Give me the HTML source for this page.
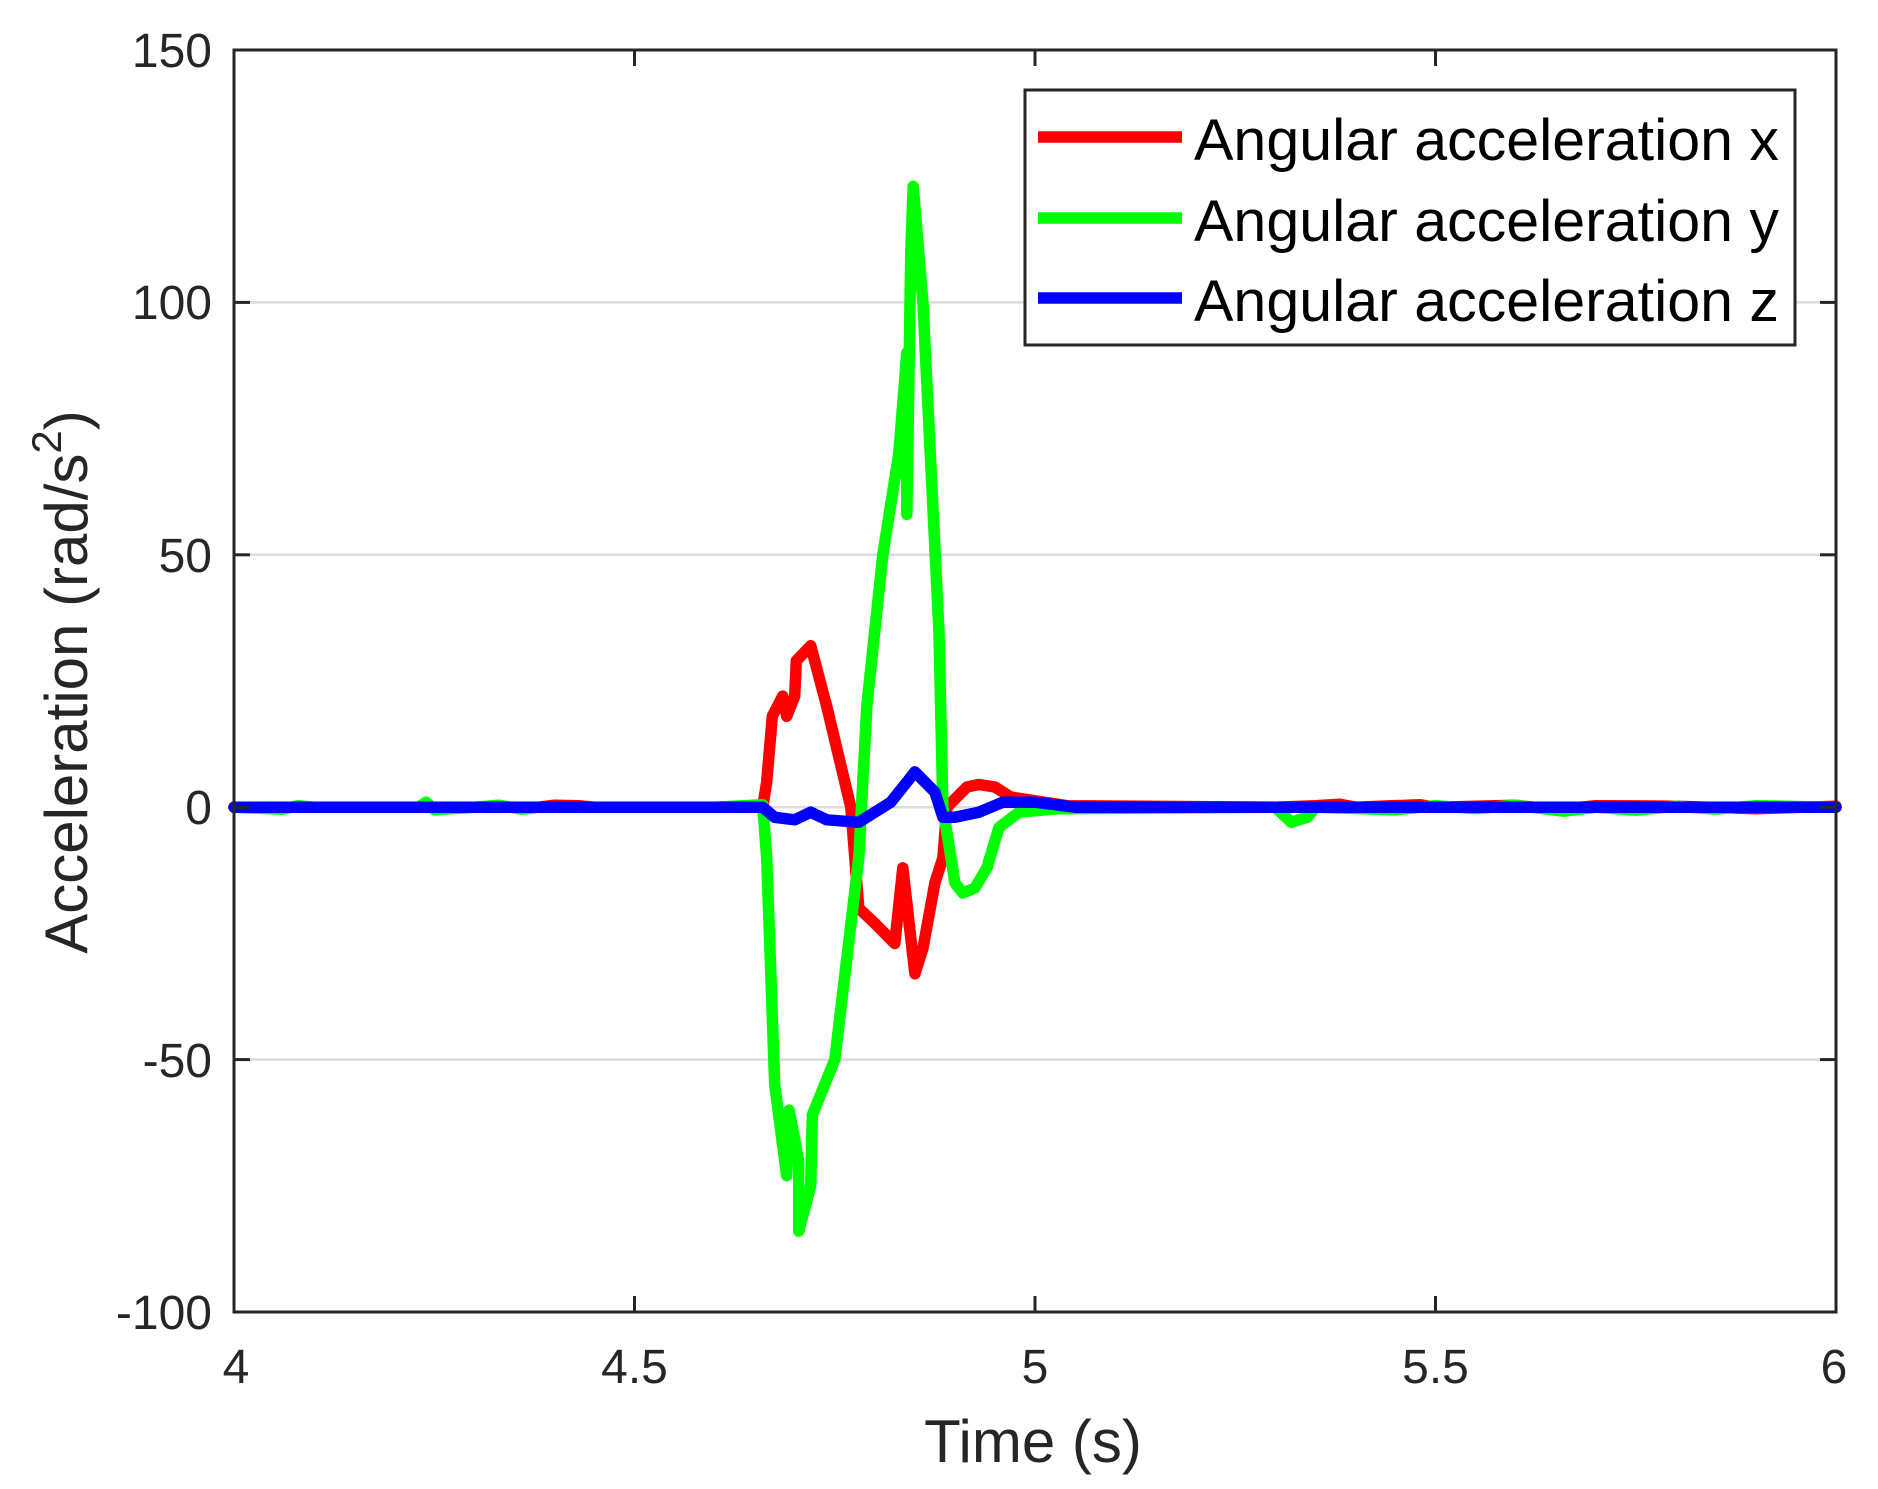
<!DOCTYPE html>
<html><head><meta charset="utf-8"><style>
html,body{margin:0;padding:0;background:#fff}
svg{display:block}
text{font-family:"Liberation Sans",Arial,sans-serif;fill:#262626}
</style></head><body>
<svg width="1878" height="1489" viewBox="0 0 1878 1489" xmlns="http://www.w3.org/2000/svg">
<rect width="1878" height="1489" fill="#fff"/>
<g stroke="#dcdcdc" stroke-width="2.5">
<line x1="234" y1="302.4" x2="1836" y2="302.4"/>
<line x1="234" y1="554.8" x2="1836" y2="554.8"/>
<line x1="234" y1="807.2" x2="1836" y2="807.2"/>
<line x1="234" y1="1059.6" x2="1836" y2="1059.6"/>
</g>
<g fill="none" stroke-width="11.5" stroke-linejoin="round" stroke-linecap="round">
<polyline stroke="#ff0000" points="234,807.2 538.4,807.2 554.4,805.2 578.4,805.7 594.5,807.2 762.7,807.2 766.7,782 772.3,716.3 782.7,696.1 786.7,716.3 794.7,696.1 796.3,660.8 810.7,645.7 826.7,706.2 850.8,807.2 858.8,908.2 874.8,923.3 894.8,943.5 902.8,867.8 914.9,973.8 922.9,948.5 934.9,882.9 942.9,857.7 946.9,807.2 966.9,787 978.9,784.5 994.9,787 1011,797.1 1067,805.7 1275.3,807.2 1315.4,805.7 1339.4,804.2 1355.4,807.2 1419.5,804.7 1435.5,807.2 1515.6,805.2 1555.7,809.7 1595.7,805.7 1675.8,806.2 1755.9,808.7 1836,806.2"/>
<polyline stroke="#00ff00" points="234,807.2 282.1,809.2 298.1,805.7 314.1,807.2 418.2,807.2 426.2,802.2 434.3,809.7 474.3,807.2 498.3,805.2 522.4,809.2 538.4,807.2 714.6,807.2 762.7,804.7 766.7,857.7 774.7,1084.8 786.7,1175.7 789.1,1110.1 798.7,1160.6 798.7,1231.2 810.7,1185.8 812.3,1115.1 834.8,1059.6 858.8,857.7 866.8,706.2 882.8,554.8 898.8,453.8 906.8,352.9 906.8,514.4 910.8,251.9 913.2,186.3 922.9,302.4 938.9,630.5 942.9,807.2 954.9,882.9 962.9,893 974.9,888 986.9,867.8 999,827.4 1019,812.2 1059,808.7 1275.3,807.2 1291.3,822.3 1307.3,817.3 1315.4,807.2 1395.5,809.7 1435.5,805.7 1475.6,808.7 1515.6,805.2 1563.7,811.2 1595.7,807.2 1635.8,810.2 1675.8,806.2 1715.9,809.2 1755.9,805.7 1836,807.2"/>
<polyline stroke="#0000ff" points="234,807.2 762.7,807.2 774.7,817.3 794.7,819.8 810.7,812.2 826.7,819.8 858.8,822.3 890.8,802.2 914.9,771.9 934.9,792.1 942.9,817.3 954.9,817.3 978.9,812.2 1002.9,802.2 1035,802.2 1075.1,807.2 1836,807.2"/>
</g>
<rect x="234" y="50" width="1602" height="1262" fill="none" stroke="#262626" stroke-width="3"/>
<g stroke="#262626" stroke-width="3">
<line x1="634.5" y1="1312" x2="634.5" y2="1296"/><line x1="1035" y1="1312" x2="1035" y2="1296"/><line x1="1435.5" y1="1312" x2="1435.5" y2="1296"/>
<line x1="634.5" y1="50" x2="634.5" y2="66"/><line x1="1035" y1="50" x2="1035" y2="66"/><line x1="1435.5" y1="50" x2="1435.5" y2="66"/>
<line x1="234" y1="302.4" x2="250" y2="302.4"/><line x1="234" y1="554.8" x2="250" y2="554.8"/><line x1="234" y1="807.2" x2="250" y2="807.2"/><line x1="234" y1="1059.6" x2="250" y2="1059.6"/>
<line x1="1836" y1="302.4" x2="1820" y2="302.4"/><line x1="1836" y1="554.8" x2="1820" y2="554.8"/><line x1="1836" y1="807.2" x2="1820" y2="807.2"/><line x1="1836" y1="1059.6" x2="1820" y2="1059.6"/>
</g>
<g font-size="48" text-anchor="end">
<text x="212" y="67">150</text>
<text x="212" y="319">100</text>
<text x="212" y="572">50</text>
<text x="212" y="824">0</text>
<text x="212" y="1077">-50</text>
<text x="212" y="1329">-100</text>
</g>
<g font-size="48" text-anchor="middle">
<text x="236" y="1383">4</text>
<text x="634.5" y="1383">4.5</text>
<text x="1035" y="1383">5</text>
<text x="1435.5" y="1383">5.5</text>
<text x="1834" y="1383">6</text>
</g>
<text x="1033" y="1462" font-size="60" text-anchor="middle">Time (s)</text>
<text transform="translate(87,682) rotate(-90)" font-size="60" text-anchor="middle">Acceleration (rad/s<tspan font-size="42" dy="-26">2</tspan><tspan dy="26">)</tspan></text>
<rect x="1025" y="90" width="770" height="255" fill="#fff" stroke="#262626" stroke-width="3"/>
<line x1="1038" y1="137" x2="1182" y2="137" stroke="#ff0000" stroke-width="11.5"/>
<line x1="1038" y1="218" x2="1182" y2="218" stroke="#00ff00" stroke-width="11.5"/>
<line x1="1038" y1="298" x2="1182" y2="298" stroke="#0000ff" stroke-width="11.5"/>
<g font-size="58">
<text x="1194" y="160" textLength="585" lengthAdjust="spacingAndGlyphs" style="fill:#000">Angular acceleration x</text>
<text x="1194" y="241" textLength="585" lengthAdjust="spacingAndGlyphs" style="fill:#000">Angular acceleration y</text>
<text x="1194" y="321" textLength="585" lengthAdjust="spacingAndGlyphs" style="fill:#000">Angular acceleration z</text>
</g>
</svg>
</body></html>
